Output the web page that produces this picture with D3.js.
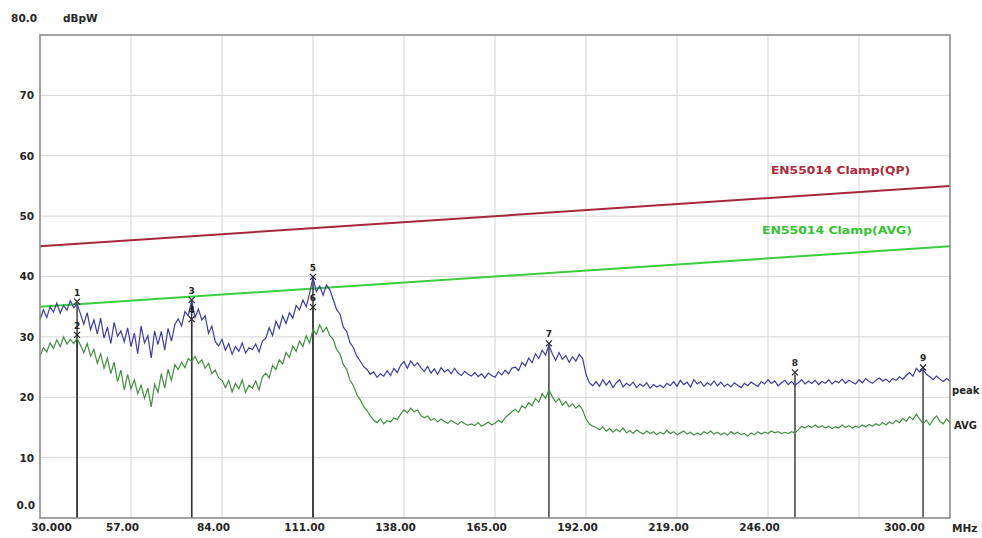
<!DOCTYPE html>
<html>
<head>
<meta charset="utf-8">
<script src="https://cdn.jsdelivr.net/npm/d3@7/dist/d3.min.js"></script>
<style>
  html, body { margin: 0; padding: 0; background: #fff; }
  svg { display: block; font-family: "DejaVu Sans", sans-serif; }
</style>
</head>
<body>
<svg id="chart" width="982" height="538"></svg>
<script>
// Frequency axis (MHz) and level axis (dBpW)
const freqStart = 30, freqStep = 1;
const xTickValues = [30, 57, 84, 111, 138, 165, 192, 219, 246, 300];
const xTickLabels = ["30.000", "57.00", "84.00", "111.00", "138.00", "165.00", "192.00", "219.00", "246.00", "300.00"];
const xGridValues = [57, 84, 111, 138, 165, 192, 219, 246, 273];
const yTickValues = [0, 10, 20, 30, 40, 50, 60, 70, 80];
const yTickLabels = ["0.0", "10", "20", "30", "40", "50", "60", "70", "80.0"];

// Peak detector sweep, one reading per MHz from 30 MHz
const peakLevels = [
  32.8, 34.5, 33.2, 35.0, 34.1, 35.6, 33.9, 35.2, 34.4, 36.0, 34.8, 35.5,
  33.8, 32.1, 34.0, 31.2, 32.8, 30.5, 33.1, 29.8, 31.6, 28.9, 32.4, 30.1, 31.0, 29.2,
  31.5, 28.4, 30.6, 27.2, 31.8, 29.0, 30.2, 26.5, 31.0, 28.7, 30.9, 27.8, 31.4, 29.3, 32.0,
  33.0, 31.8, 34.2, 33.5, 36.0, 33.2, 34.6, 32.8,
  33.5, 30.6, 31.8, 29.2, 28.5, 29.6,
  27.8, 28.9, 27.1, 28.4, 27.6, 29.0, 27.3, 28.2, 27.9, 28.8, 27.5, 29.3,
  29.8, 31.5, 30.2, 32.6, 31.4, 33.5, 32.2,
  34.0, 33.1, 35.2, 34.5, 36.1, 35.0, 37.2,
  39.8,
  37.5, 38.4, 36.9, 38.6, 37.8,
  36.2, 34.5, 33.8, 31.6, 30.9, 29.0, 28.2, 26.8, 26.0, 25.1, 24.6,
  23.8, 24.2, 23.3, 23.9, 23.5, 24.4, 23.6, 24.8, 24.1,
  25.3, 25.9, 24.8, 26.0, 25.2, 25.7, 24.9,
  24.3, 25.1, 24.0, 24.7, 23.8, 24.9, 24.2, 24.6, 23.9, 24.8, 24.0, 23.6, 24.3, 23.8,
  23.5, 24.1, 23.4, 23.9, 23.2, 24.0, 23.6, 23.3, 24.2, 23.7, 24.5, 23.9, 24.8,
  25.0, 24.4, 25.8, 25.2, 26.5, 25.7, 27.2, 26.4, 27.8, 27.0, 28.6,
  27.2, 26.1, 27.4, 26.3, 26.9, 25.8, 26.7, 26.0, 27.1, 26.4,
  23.8, 22.4, 21.9,
  22.6, 21.8, 22.9, 22.0, 22.7, 21.6, 22.4, 22.9, 21.7, 22.3, 21.9, 22.5, 21.6, 22.2, 21.8, 22.4, 21.5, 22.1,
  21.7, 22.0, 21.6, 22.3, 21.9, 22.6, 21.8, 22.8, 22.1, 22.5, 21.7, 22.9, 22.2, 22.6, 21.8, 22.4, 22.0, 22.7,
  21.9, 22.5, 21.8, 22.2, 21.7, 22.4, 22.0, 21.6, 22.3, 21.9, 22.5, 22.1, 21.8, 22.6, 22.2,
  22.9, 22.3, 22.7, 21.9, 22.4, 22.8, 22.1, 22.6, 22.0, 22.4, 22.9, 22.2, 22.7, 22.3, 22.8,
  22.1, 22.6, 22.3, 22.9, 22.2, 22.7, 22.4, 23.0, 22.3, 22.8, 22.5, 22.2, 22.9, 22.4, 23.1, 22.6, 22.3, 22.8, 23.2, 22.7, 23.0, 22.5,
  23.1, 22.8, 23.4, 23.0, 23.6,
  24.1, 23.5, 24.8, 24.2, 24.6, 23.8,
  23.4, 22.9, 23.5, 23.0, 22.6, 23.1, 22.7
];

// Average detector sweep, one reading per MHz from 30 MHz
const avgLevels = [
  26.8, 28.2, 27.5, 29.0, 28.1, 29.5, 28.4, 30.0, 28.8, 29.6, 28.9, 29.8,
  28.6, 27.4, 28.9, 26.8, 27.9, 25.6, 27.2, 24.8, 26.5, 23.9, 25.8, 22.6, 24.5, 21.2,
  23.8, 21.4, 22.9, 20.6, 22.0, 19.8, 21.5, 18.4, 22.2, 20.8, 23.9, 21.5, 24.6, 22.8, 25.4,
  24.6, 25.8, 24.9, 26.4, 25.9, 26.8, 25.6, 26.2,
  24.8, 25.6, 23.9, 24.5, 23.2, 22.8,
  21.6, 22.8, 20.9, 22.3, 21.4, 22.9, 20.8, 22.0, 21.5, 22.7, 21.2, 23.4,
  24.0, 23.2, 25.3, 24.6, 26.2, 25.5, 27.4,
  26.6, 28.5, 27.6, 29.3, 28.4, 30.2, 29.0,
  31.2,
  30.4, 32.0, 30.8, 31.6, 30.2,
  29.6, 27.9, 27.2, 25.4, 24.6, 22.8, 21.9, 20.4, 19.6, 18.5, 17.8,
  16.9, 16.2, 15.8, 16.4, 15.6, 16.1, 15.9, 16.6, 16.3,
  17.2, 17.9, 17.4, 18.2, 17.6, 17.9, 17.0,
  16.6, 16.9, 16.2, 16.5, 15.9, 16.4, 16.0, 15.7, 16.2, 15.8, 15.5, 16.0, 15.6, 15.4,
  15.6, 15.3, 15.8, 15.2, 15.5, 15.9, 15.4, 15.7, 16.2, 15.8, 16.6, 17.1, 17.6,
  18.0, 17.5, 18.6, 18.2, 19.1, 18.6, 19.8, 19.2, 20.6, 19.8, 21.2,
  20.1, 19.2, 19.8, 18.7, 19.3, 18.4, 18.9, 18.2, 18.7, 17.9,
  16.4, 15.6, 15.2,
  15.0, 14.6, 15.1, 14.4, 14.8, 14.2, 14.7, 14.3, 14.9, 14.1, 14.5, 14.0, 14.6, 14.2, 13.9, 14.4, 14.0, 14.3,
  13.8, 14.2, 13.9, 14.5, 14.0, 14.3, 13.8, 14.1, 14.4, 13.9, 14.2, 13.7, 14.1, 13.8, 14.3, 14.0, 14.4, 13.9,
  14.2, 13.8, 14.1, 13.7, 14.3, 13.9, 14.2, 13.8, 14.0, 13.6, 14.1, 13.8, 14.3, 13.9, 14.2,
  14.0, 14.4, 14.1, 14.3, 14.0, 14.2, 14.0, 14.3, 14.1, 14.6, 15.2, 14.9, 15.3, 15.0, 15.4,
  15.0, 15.3, 14.9, 15.2, 14.8, 15.1, 14.9, 15.4, 15.0, 15.3, 14.9, 15.2, 15.0, 15.4, 15.1, 15.5, 15.2, 15.6, 15.3, 15.8, 15.4, 15.9,
  15.6, 16.2, 15.8, 16.5, 16.0,
  16.8, 16.3, 17.2, 16.4, 15.6, 16.2,
  15.4, 16.3, 16.9, 16.0, 15.6, 16.4, 15.8
];

// EN55014 clamp limits, straight lines 30 -> 300 MHz
const limitFreqs = [30, 300];
const limitQP = [45, 55];
const limitAVG = [35, 45];

// Markers: frequency, level, number
const markerFreqs = [41, 41, 75, 75, 111, 111, 181, 254, 292];
const markerLevels = [35.5, 30.0, 35.8, 32.6, 39.6, 34.6, 28.6, 23.8, 24.6];
const markerNames = ["1", "2", "3", "4", "5", "6", "7", "8", "9"];

const svg = d3.select("#chart");
const plot = { left: 40, right: 950, top: 35, bottom: 518 };

const x = d3.scaleLinear().domain([30, 300]).range([plot.left, plot.right]);
const y = d3.scaleLinear().domain([0, 80]).range([plot.bottom, plot.top]);

const textColor = "#262626";
const labelFont = "bold 10.5px 'DejaVu Sans', sans-serif";

// grid
const grid = svg.append("g");
grid.selectAll("line.v").data(xGridValues).join("line")
  .attr("x1", d => x(d)).attr("x2", d => x(d))
  .attr("y1", plot.top).attr("y2", plot.bottom)
  .attr("stroke", "#d4d4d4").attr("stroke-width", 1);
grid.selectAll("line.h").data(yTickValues.filter(v => v > 0 && v < 80)).join("line")
  .attr("x1", plot.left).attr("x2", plot.right)
  .attr("y1", d => y(d)).attr("y2", d => y(d))
  .attr("stroke", "#d4d4d4").attr("stroke-width", 1);

// limit lines
const limitLine = d3.line().x(d => x(d[0])).y(d => y(d[1]));
svg.append("path")
  .attr("d", limitLine(limitFreqs.map((f, i) => [f, limitQP[i]])))
  .attr("fill", "none").attr("stroke", "#a3283a").attr("stroke-width", 2);
svg.append("path")
  .attr("d", limitLine(limitFreqs.map((f, i) => [f, limitAVG[i]])))
  .attr("fill", "none").attr("stroke", "#3ccd3c").attr("stroke-width", 2);

svg.append("text").attr("x", 771).attr("y", 174)
  .attr("textLength", 139).attr("lengthAdjust", "spacingAndGlyphs")
  .attr("fill", "#b0283a")
  .style("font", "bold 10.5px 'DejaVu Sans', sans-serif")
  .text("EN55014 Clamp(QP)");
svg.append("text").attr("x", 762).attr("y", 234)
  .attr("textLength", 150).attr("lengthAdjust", "spacingAndGlyphs")
  .attr("fill", "#33c433")
  .style("font", "bold 10.5px 'DejaVu Sans', sans-serif")
  .text("EN55014 Clamp(AVG)");

// marker stems
const markerData = markerFreqs.map((f, i) => ({ f, v: markerLevels[i], name: markerNames[i] }));
svg.append("g").selectAll("line").data(markerData).join("line")
  .attr("x1", d => x(d.f)).attr("x2", d => x(d.f))
  .attr("y1", d => y(d.v)).attr("y2", plot.bottom)
  .attr("stroke", "#333").attr("stroke-width", 1.4);

// traces
const trace = d3.line().x((d, i) => x(freqStart + i * freqStep)).y(d => y(d));
svg.append("path").attr("d", trace(avgLevels))
  .attr("fill", "none").attr("stroke", "#428e42").attr("stroke-width", 1.2);
svg.append("path").attr("d", trace(peakLevels))
  .attr("fill", "none").attr("stroke", "#3d3da0").attr("stroke-width", 1.2);

// marker symbols and numbers
const mk = svg.append("g");
mk.selectAll("text.num").data(markerData).join("text")
  .attr("x", d => x(d.f)).attr("y", d => y(d.v) - 8)
  .attr("text-anchor", "middle").attr("fill", "#222")
  .style("font", "bold 9px 'DejaVu Sans', sans-serif")
  .text(d => d.name);
mk.selectAll("path.sym").data(markerData).join("path")
  .attr("d", d => {
    const cx = x(d.f), cy = y(d.v) - 2;
    return `M${cx - 3},${cy - 3}L${cx + 3},${cy + 3}M${cx + 3},${cy - 3}L${cx - 3},${cy + 3}`;
  })
  .attr("stroke", "#222").attr("stroke-width", 1.2);

// trace names at the right end
svg.append("text").attr("x", plot.right + 2).attr("y", y(peakLevels[peakLevels.length - 1]) + 13)
  .attr("fill", textColor).style("font", "bold 10px 'DejaVu Sans', sans-serif").text("peak");
svg.append("text").attr("x", plot.right + 4).attr("y", y(avgLevels[avgLevels.length - 1]) + 6)
  .attr("fill", textColor).style("font", "bold 10px 'DejaVu Sans', sans-serif").text("AVG");

// plot frame
svg.append("rect")
  .attr("x", plot.left).attr("y", plot.top)
  .attr("width", plot.right - plot.left).attr("height", plot.bottom - plot.top)
  .attr("fill", "none").attr("stroke", "#8c8c8c").attr("stroke-width", 1.6);

// x axis labels
const xAxis = d3.axisBottom(x).tickValues(xTickValues)
  .tickFormat((d, i) => xTickLabels[i]).tickSize(0).tickPadding(6);
const gx = svg.append("g").attr("transform", `translate(0,${plot.bottom})`).call(xAxis);
gx.select(".domain").remove();
gx.selectAll("text").attr("fill", textColor).style("font", labelFont)
  .attr("dx", d => d === 30 ? 11 : d === 300 ? -46 : -9);
svg.append("text").attr("x", 952).attr("y", plot.bottom + 14)
  .attr("fill", textColor).style("font", labelFont).text("MHz");

// y axis labels
const yAxis = d3.axisLeft(y).tickValues(yTickValues)
  .tickFormat((d, i) => yTickLabels[i]).tickSize(0).tickPadding(6);
const gy = svg.append("g").attr("transform", `translate(${plot.left},0)`).call(yAxis);
gy.select(".domain").remove();
gy.selectAll("text").attr("fill", textColor).style("font", labelFont)
  .attr("dy", d => d === 0 ? "-0.95em" : d === 80 ? "-1.3em" : "0.32em")
  .attr("dx", d => d === 80 ? 3 : d === 0 ? 1 : 0);
svg.append("text").attr("x", 63).attr("y", 22)
  .attr("fill", textColor).style("font", labelFont).text("dBpW");
</script>
</body>
</html>
